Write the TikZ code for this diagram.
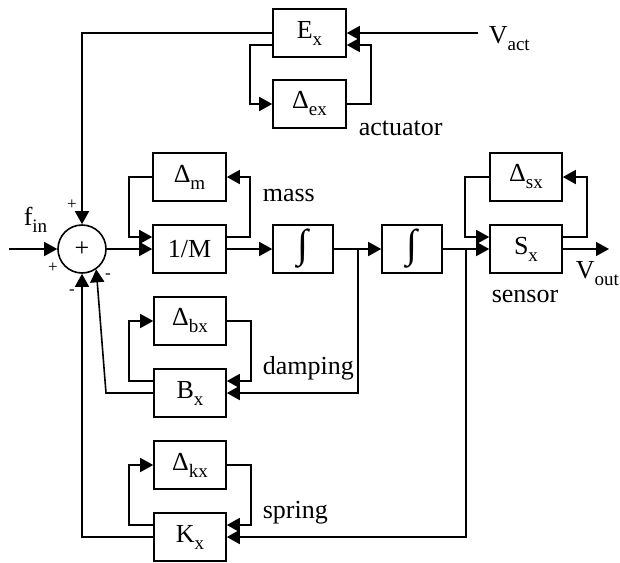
\documentclass[tikz,border=0pt]{standalone}
\usepackage{fontspec}
\setmainfont{Liberation Serif}
\usetikzlibrary{arrows.meta}
\newcommand\lsub[1]{\raisebox{-7pt}{\fontsize{19}{19}\selectfont #1}}
\newcommand\intg{{\fontsize{40}{40}\selectfont ∫}}
\begin{document}
\begin{tikzpicture}[x=1pt,y=-1pt, line width=1.6pt,
  blk/.style={draw, minimum width=73pt, minimum height=48pt, inner sep=0pt, font=\fontsize{26}{26}\selectfont},
  arr/.style={-{Triangle[length=13pt,width=14pt]}},
  lbl/.style={anchor=base west, inner sep=0pt, font=\fontsize{26}{26}\selectfont},
  sgn/.style={inner sep=0pt, font=\fontsize{17}{17}\selectfont}]
\useasboundingbox (0,0) rectangle (620,562);
% blocks
\node[blk] (Ex) at (309.5,33) {E\lsub{x}};
\node[blk] (Dex) at (309.5,104) {Δ\lsub{ex}};
\node[draw, circle, minimum size=48pt, inner sep=0pt, font=\fontsize{26}{26}\selectfont] (sum) at (82,249) {+};
\node[blk] (Dm) at (189.5,177) {Δ\lsub{m}};
\node[blk] (M) at (189.5,249) {1/M};
\node[blk, minimum width=60pt] (I1) at (303,249) {\intg};
\node[blk, minimum width=60pt] (I2) at (412,249) {\intg};
\node[blk, minimum width=72pt] (Sx) at (526,249) {S\lsub{x}};
\node[blk, minimum width=72pt] (Dsx) at (526,177) {Δ\lsub{sx}};
\node[blk, minimum width=72pt] (Dbx) at (190,321) {Δ\lsub{bx}};
\node[blk, minimum width=72pt] (Bx) at (190,393) {B\lsub{x}};
\node[blk, minimum width=72pt] (Dkx) at (190,465) {Δ\lsub{kx}};
\node[blk, minimum width=72pt] (Kx) at (190,537) {K\lsub{x}};
% free ends and branch points
\coordinate (fin) at (9,249);
\coordinate (vact) at (478,33);
\coordinate (vout) at (609,249);
\coordinate (b1) at (358,249);
\coordinate (b2) at (466,249);
\coordinate (bk) at (106,393);
% main path
\draw[arr] (fin) -- (sum.west);
\draw[arr] (sum.east) -- (M.west);
\draw[arr] (M.east) -- (I1.west);
\draw[arr] (I1.east) -- (I2.west);
\draw[arr] (I2.east) -- (Sx.west);
\draw[arr] (Sx.east) -- (vout);
% mass loop
\draw[arr] ([yshift=12pt]M.east) -- ++(23,0) |- (Dm.east);
\draw[arr] (Dm.west) -- ++(-23.5,0) |- ([yshift=12pt]M.west);
% sensor loop
\draw[arr] ([yshift=12pt]Sx.east) -- ++(24,0) |- (Dsx.east);
\draw[arr] (Dsx.west) -- ++(-24,0) |- ([yshift=12pt]Sx.west);
% actuator
\draw[arr] (vact) -- (Ex.east);
\draw[arr] ([yshift=-12pt]Ex.west) -- ++(-22,0) |- (Dex.west);
\draw[arr] (Dex.east) -- ++(24,0) |- ([yshift=-12pt]Ex.east);
\draw[arr] (Ex.west) -| (sum.north);
% damping
\draw[arr] (b1) |- (Bx.east);
\draw[arr] ([yshift=12pt]Bx.west) -- ++(-24,0) |- (Dbx.west);
\draw[arr] (Dbx.east) -- ++(24,0) |- ([yshift=12pt]Bx.east);
\draw[arr] (Bx.west) -- (bk) -- (sum.-55);
% spring
\draw[arr] (b2) |- (Kx.east);
\draw[arr] ([yshift=12pt]Kx.west) -- ++(-24,0) |- (Dkx.west);
\draw[arr] (Dkx.east) -- ++(24,0) |- ([yshift=12pt]Kx.east);
\draw[arr] (Kx.west) -| (sum.south);
% labels
\node[lbl] (lfin) at (23,225) {f\lsub{in}};
\node[lbl] (lvact) at (488,43) {V\lsub{act}};
\node[lbl] (lvout) at (575,278) {V\lsub{out}};
\node[lbl] (lact) at (358,135) {actuator};
\node[lbl] (lmass) at (262,201) {mass};
\node[lbl] (ldamp) at (262,374) {damping};
\node[lbl] (lspring) at (262,518) {spring};
\node[lbl] (lsensor) at (491,302) {sensor};
\node[sgn] (s1) at (72,205) {+};
\node[sgn] (s2) at (53,268) {+};
\node[sgn] (s3) at (72,292) {-};
\node[sgn] (s4) at (108,276) {-};
\end{tikzpicture}
\end{document}
